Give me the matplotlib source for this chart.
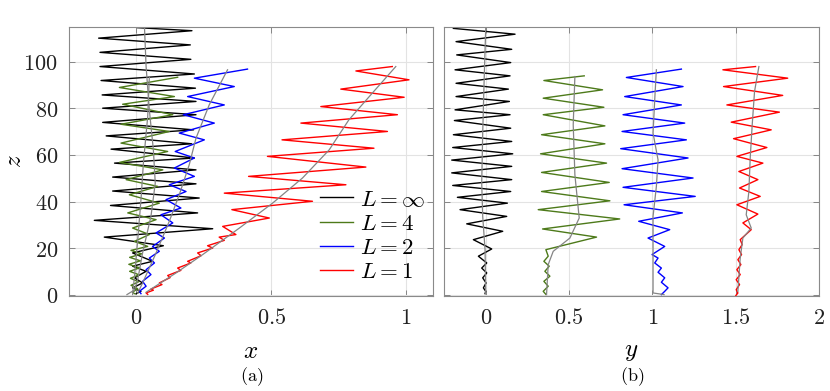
import matplotlib
matplotlib.use("Agg")
import matplotlib.pyplot as plt
from matplotlib.ticker import FuncFormatter

plt.rcParams['mathtext.fontset'] = 'cm'
plt.rcParams['font.family'] = ['DejaVu Serif']

labels = [r'$L=\infty$', r'$L=4$', r'$L=2$', r'$L=1$']
colors = ['#000000', '#4d7a1a', '#0000ff', '#ff0000']

# ---- panel (a): x vs z, turning points ----
xa_inf = [0.005, 0.206, -0.140, 0.200, -0.135, 0.202, -0.135, 0.215, -0.131, 0.219, -0.127,
          0.221, -0.125, 0.221, -0.125, 0.212, -0.112, 0.205, -0.094, 0.215, -0.081, 0.221,
          -0.088, 0.221, -0.088, 0.233, -0.096, 0.227, -0.156, 0.283, -0.119, 0.10, -0.014,
          0.060, -0.014, 0.036, -0.007, 0.023, -0.014, 0.017, -0.001]
za_inf = [114.7, 113.4, 110.2, 107.3, 104.1, 101.1, 98.0, 94.8, 92.0, 88.7, 85.8,
          83.0, 80.1, 77.3, 74.0, 70.8, 68.2, 64.8, 62.5, 58.7, 56.5, 53.6,
          50.5, 47.6, 44.5, 41.5, 38.3, 35.1, 31.9, 28.3, 24.7, 21.0, 17.9,
          14.3, 12.2, 10.0, 7.2, 5.0, 2.9, 1.4, 0.4]

xa_4 = [0.153, -0.063, 0.141, -0.051, 0.135, -0.057, 0.122, -0.057, 0.116, -0.063, 0.098,
        -0.038, 0.079, -0.026, 0.085, -0.032, 0.073, -0.014, 0.048, -0.007, 0.042, -0.020,
        0.020, -0.025, 0.015, -0.028, 0.012, -0.025, 0.010, -0.022, 0.008, -0.020, 0.005,
        -0.015, -0.005]
za_4 = [93.4, 89.0, 85.1, 81.8, 77.3, 73.2, 70.1, 65.1, 61.5, 56.8, 53.6,
        49.4, 46.5, 42.9, 39.3, 35.1, 32.2, 28.6, 25.8, 22.9, 20.7, 19.0,
        17.5, 16.0, 14.5, 13.0, 11.5, 10.0, 8.5, 7.0, 5.5, 4.0, 2.5,
        1.0, 0.3]

xa_2 = [0.412, 0.215, 0.363, 0.190, 0.326, 0.174, 0.289, 0.159, 0.252, 0.144, 0.215,
        0.141, 0.215, 0.122, 0.184, 0.110, 0.165, 0.091, 0.135, 0.073, 0.104, 0.060,
        0.085, 0.048, 0.067, 0.036, 0.054, 0.023, 0.036, 0.011, 0.017]
za_2 = [96.9, 93.0, 89.4, 85.1, 81.5, 77.3, 73.7, 69.4, 66.5, 61.5, 58.7,
        54.4, 50.8, 47.2, 44.3, 40.8, 37.2, 34.3, 30.8, 26.5, 24.3, 20.7,
        18.6, 15.7, 13.6, 10.7, 8.6, 5.7, 3.6, 1.4, 0.4]

xa_1 = [0.949, 0.814, 1.011, 0.758, 0.993, 0.684, 0.968, 0.610, 0.931, 0.540, 0.881,
        0.486, 0.851, 0.416, 0.777, 0.326, 0.653, 0.354, 0.493, 0.320, 0.369, 0.307,
        0.326, 0.264, 0.283, 0.227, 0.240, 0.190, 0.202, 0.153, 0.165, 0.116, 0.125,
        0.085, 0.095, 0.054, 0.063, 0.036, 0.042]
za_1 = [98.0, 96.1, 92.3, 88.3, 84.8, 80.8, 77.3, 73.7, 70.1, 66.5, 62.9,
        59.4, 54.8, 50.8, 47.2, 43.6, 40.1, 36.5, 32.9, 29.3, 25.8, 24.7,
        23.3, 21.0, 20.0, 17.9, 16.7, 14.3, 13.6, 11.4, 10.4, 8.2, 7.3,
        5.0, 4.3, 2.4, 1.9, 0.7, 0.1]

# mean (gray) paths, panel (a)
ma_inf_x = [-0.035, -0.007, 0.005, 0.023, 0.054, 0.070, 0.063, 0.048, 0.036, 0.030]
ma_inf_z = [0.0, 2.0, 6.4, 17.9, 33.6, 47.9, 62.2, 79.4, 98.0, 114.9]
ma_4_x = [-0.014, -0.007, 0.005, 0.017, 0.026, 0.042, 0.048]
ma_4_z = [0.0, 7.9, 23.6, 40.8, 56.5, 76.5, 93.4]
ma_2_x = [0.005, 0.023, 0.073, 0.122, 0.159, 0.196, 0.221, 0.270, 0.338]
ma_2_z = [0.7, 5.0, 17.9, 31.5, 42.9, 55.8, 67.2, 81.5, 96.6]
ma_1_x = [0.036, 0.147, 0.246, 0.382, 0.505, 0.616, 0.715, 0.788, 0.875, 0.962]
ma_1_z = [1.0, 9.3, 17.2, 28.6, 39.3, 50.1, 62.2, 75.1, 86.6, 98.0]

# ---- panel (b): y vs z ----
yb_inf = [-0.194, 0.176, -0.178, 0.156, -0.174, 0.150, -0.184, 0.146, -0.178, 0.136, -0.178,
          0.142, -0.184, 0.146, -0.188, 0.150, -0.194, 0.156, -0.198, 0.162, -0.204, 0.156,
          -0.204, 0.156, -0.198, 0.150, -0.170, 0.130, -0.154, 0.126, -0.114, 0.102, -0.074,
          0.036, -0.044, 0.006, -0.024, 0.006, -0.018, 0.002, -0.014, 0.0, -0.004]
zb_inf = [114.4, 111.9, 108.7, 105.4, 103.0, 99.7, 96.6, 94.0, 90.8, 88.3, 85.1,
          83.0, 79.4, 77.3, 74.8, 71.5, 68.7, 65.8, 63.2, 60.5, 57.8, 55.1,
          52.3, 49.4, 46.9, 44.3, 41.8, 39.3, 36.5, 33.6, 30.4, 27.2, 23.6,
          19.6, 16.5, 13.6, 11.4, 9.3, 7.2, 5.0, 2.9, 1.4, 0.4]

yb_4 = [0.591, 0.349, 0.701, 0.345, 0.709, 0.345, 0.715, 0.335, 0.715, 0.329, 0.725,
        0.335, 0.741, 0.335, 0.745, 0.315, 0.804, 0.341, 0.665, 0.361, 0.375, 0.349,
        0.381, 0.355, 0.385, 0.349, 0.375, 0.345, 0.361]
zb_4 = [94.0, 92.0, 88.0, 84.4, 80.5, 77.3, 72.5, 68.7, 64.8, 60.5, 56.5,
        52.5, 48.2, 44.3, 40.3, 36.5, 32.5, 28.2, 24.7, 19.3, 16.5, 14.3,
        12.2, 10.0, 7.9, 5.7, 3.6, 1.4, 0.1]

yb_2 = [1.174, 0.844, 1.184, 0.834, 1.174, 0.824, 1.194, 0.818, 1.204, 0.810, 1.214,
        0.818, 1.244, 0.824, 1.257, 0.830, 1.180, 0.918, 1.104, 0.974, 1.074, 0.998,
        1.034, 1.014, 1.054, 1.034, 1.074, 1.054, 1.094, 1.074, 1.054]
zb_2 = [96.9, 93.3, 89.4, 85.1, 81.5, 77.3, 73.7, 70.1, 66.5, 62.7, 58.7,
        54.1, 50.1, 46.1, 42.2, 38.6, 35.1, 31.5, 27.9, 24.3, 20.7, 17.2,
        15.7, 13.6, 11.4, 9.6, 7.2, 5.3, 2.9, 1.4, 0.0]

yb_1 = [1.619, 1.423, 1.812, 1.427, 1.782, 1.447, 1.762, 1.473, 1.713, 1.487, 1.687,
        1.507, 1.663, 1.519, 1.633, 1.523, 1.647, 1.507, 1.633, 1.543, 1.593, 1.527,
        1.539, 1.519, 1.535, 1.513, 1.531, 1.507, 1.527, 1.503, 1.523, 1.503, 1.513, 1.501]
zb_1 = [98.0, 96.6, 93.0, 89.4, 85.6, 81.5, 78.4, 74.1, 70.8, 67.0, 63.2,
        59.4, 56.5, 52.9, 49.4, 45.8, 42.2, 38.6, 34.6, 30.8, 27.9, 23.6,
        21.5, 19.3, 17.2, 15.0, 12.9, 10.7, 8.6, 6.4, 4.3, 2.1, 0.7, -0.4]

mb_inf_y = [0.0, -0.004, -0.018, -0.024, -0.018, -0.010, 0.0]
mb_inf_z = [0.4, 19.3, 33.6, 47.9, 69.4, 90.8, 114.4]
mb_4_y = [0.365, 0.375, 0.405, 0.505, 0.561, 0.535, 0.525, 0.535]
mb_4_z = [0.0, 12.9, 18.6, 24.3, 32.9, 51.5, 73.0, 93.7]
mb_2_y = [1.070, 1.004, 1.004, 1.004, 1.024, 1.034, 1.004, 1.014, 1.024]
mb_2_z = [0.0, 0.7, 15.0, 33.6, 46.5, 57.9, 69.4, 83.7, 96.6]
mb_1_y = [1.513, 1.527, 1.543, 1.593, 1.563, 1.579, 1.587, 1.599, 1.613, 1.639]
mb_1_z = [1.4, 15.7, 24.3, 28.6, 34.3, 44.3, 58.7, 73.0, 87.3, 98.0]

fig = plt.figure(figsize=(8.3, 3.91), dpi=100)
ax1 = fig.add_axes([0.0831, 0.243, 0.4386, 0.688])
ax2 = fig.add_axes([0.535, 0.243, 0.4518, 0.688])

mean_col = '#858585'
tfmt = FuncFormatter(lambda v, p: r'$%g$' % v)

for xs, zs, c, lab in zip([xa_inf, xa_4, xa_2, xa_1], [za_inf, za_4, za_2, za_1], colors, labels):
    ax1.plot(xs, zs, color=c, lw=1.0, label=lab)
for xs, zs in zip([ma_inf_x, ma_4_x, ma_2_x, ma_1_x], [ma_inf_z, ma_4_z, ma_2_z, ma_1_z]):
    ax1.plot(xs, zs, color=mean_col, lw=0.9)

for ys, zs, c in zip([yb_inf, yb_4, yb_2, yb_1], [zb_inf, zb_4, zb_2, zb_1], colors):
    ax2.plot(ys, zs, color=c, lw=1.0)
for ys, zs in zip([mb_inf_y, mb_4_y, mb_2_y, mb_1_y], [mb_inf_z, mb_4_z, mb_2_z, mb_1_z]):
    ax2.plot(ys, zs, color=mean_col, lw=0.9)

ax1.set_xlim(-0.25, 1.1)
ax2.set_xlim(-0.25, 2.0)
ax1.set_xticks([0, 0.5, 1])
ax2.set_xticks([0, 0.5, 1, 1.5, 2])
for ax in (ax1, ax2):
    ax.set_ylim(-0.6, 115)
    ax.set_yticks([0, 20, 40, 60, 80, 100])
    ax.grid(True, color='#e3e3e3', lw=0.8)
    ax.set_axisbelow(True)
    ax.tick_params(direction='in', top=True, right=True, length=4, width=0.6,
                   color='#777777', labelsize=16, pad=8, labelcolor='#222222')
    ax.xaxis.set_major_formatter(tfmt)
    ax.yaxis.set_major_formatter(tfmt)
    for s in ax.spines.values():
        s.set_color('#8a8a8a')
        s.set_linewidth(0.8)
ax2.set_yticklabels([])

ax1.set_xlabel(r'$x$', fontsize=18, labelpad=8)
ax2.set_xlabel(r'$y$', fontsize=18, labelpad=8)
ax1.set_ylabel(r'$z$', fontsize=18)
ax1.yaxis.set_label_coords(-0.118, 0.5)

leg = ax1.legend(loc='lower right', bbox_to_anchor=(1.012, 0.0), frameon=False, fontsize=16.5,
                 handlelength=1.45, handletextpad=0.28, labelspacing=0.1, borderaxespad=0.15)

fig.text(0.3036, 0.025, r'$\mathrm{(a)}$', ha='center', fontsize=13)
fig.text(0.7614, 0.025, r'$\mathrm{(b)}$', ha='center', fontsize=13)

fig.savefig('out.png', dpi=100)
